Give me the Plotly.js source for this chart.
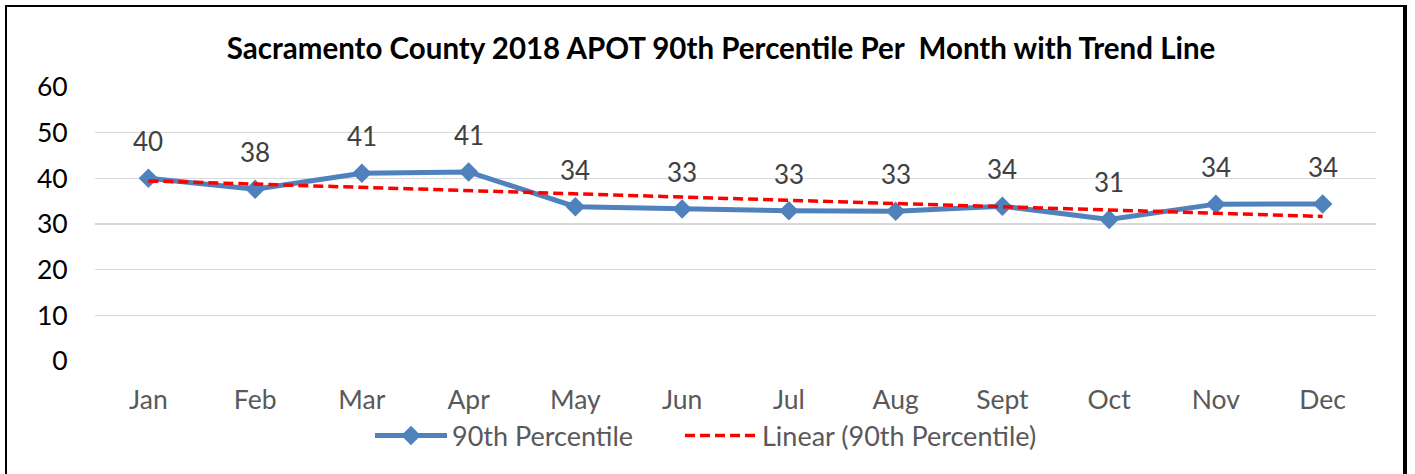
<!DOCTYPE html>
<html>
<head>
<meta charset="utf-8">
<script src="https://cdn.plot.ly/plotly-3.0.1.min.js"></script>
<style>
  html, body { margin: 0; padding: 0; background: #fff; }
  #wrap { position: relative; width: 1415px; height: 474px; overflow: hidden; }
  #chart { position: absolute; left: 0; top: 0; width: 1415px; height: 474px; }
  #frame { position: absolute; left: 5px; top: 5px; width: 1402px; height: 480px;
           border-left: 2px solid #000; border-top: 2px solid #000; border-right: 4px solid #000;
           pointer-events: none; box-sizing: border-box; }
</style>
</head>
<body>
<div id="wrap"><div id="chart"></div><div id="frame"></div></div>
<script>
const months = ["Jan","Feb","Mar","Apr","May","Jun","Jul","Aug","Sept","Oct","Nov","Dec"];
const p90 = [40.0, 37.6, 41.1, 41.4, 33.8, 33.3, 32.9, 32.8, 33.9, 31.0, 34.35, 34.4];
const yTicks = [0, 10, 20, 30, 40, 50, 60];

// Linear least-squares trend line computed from the series
const n = p90.length;
const xs = p90.map((_, i) => i + 1);
const mx = xs.reduce((a, b) => a + b, 0) / n;
const my = p90.reduce((a, b) => a + b, 0) / n;
let sxy = 0, sxx = 0;
for (let i = 0; i < n; i++) { sxy += (xs[i] - mx) * (p90[i] - my); sxx += (xs[i] - mx) ** 2; }
const slope = sxy / sxx;
const trend = xs.map(x => my + slope * (x - mx));

const FONT = "Lato, 'Noto Sans', sans-serif";

const traces = [
  {
    x: months, y: p90, type: "scatter", mode: "lines+markers",
    name: "90th Percentile", legend: "legend",
    line: { color: "#4F81BD", width: 5 },
    marker: { symbol: "diamond", size: 15, color: "#4F81BD" }
  },
  {
    x: months, y: trend, type: "scatter", mode: "lines",
    name: "Linear (90th Percentile)", legend: "legend2",
    line: { color: "#FF0000", width: 3.5, dash: "10px,5px" }
  }
];

const annotations = months.map((m, i) => ({
  x: m, y: p90[i], xref: "x", yref: "y",
  text: String(Math.round(p90[i])),
  showarrow: false, yshift: 37, yanchor: "middle",
  font: { family: FONT, size: 26, color: "#404040" }
}));

const legendBase = {
  orientation: "h", xref: "container", yref: "container",
  y: 1 - 436 / 474, xanchor: "left", yanchor: "middle",
  font: { family: FONT, size: 27, color: "#595959" },
  itemwidth: 72, bgcolor: "rgba(0,0,0,0)"
};

const layout = {
  width: 1415, height: 474,
  paper_bgcolor: "#fff", plot_bgcolor: "#fff",
  margin: { l: 95, r: 39, t: 87, b: 113 },
  title: {
    text: "<b>Sacramento County 2018 APOT 90th Percentile Per\u00A0 Month with Trend Line</b>",
    xref: "container", yref: "container", x: 0.5096, y: 1 - 49 / 474,
    xanchor: "center", yanchor: "middle",
    font: { family: FONT, size: 29.5, color: "#000" }
  },
  xaxis: {
    type: "category", range: [-0.5, 11.5],
    showgrid: false, zeroline: false, showline: false,
    ticks: "outside", ticklen: 15, tickcolor: "rgba(0,0,0,0)",
    tickfont: { family: FONT, size: 26.5, color: "#595959" }
  },
  yaxis: {
    range: [0, 60], tickvals: yTicks, ticktext: yTicks.map(String),
    showgrid: true, gridcolor: "#D9D9D9", gridwidth: 1.5,
    zeroline: false, showline: false,
    ticks: "outside", ticklen: 21, tickcolor: "rgba(0,0,0,0)",
    tickfont: { family: FONT, size: 26.5, color: "#000" }
  },
  showlegend: true,
  legend: Object.assign({}, legendBase, { x: 370 / 1415 }),
  legend2: Object.assign({}, legendBase, { x: 680 / 1415 }),
  annotations: annotations
};

Plotly.newPlot("chart", traces, layout, { displayModeBar: false, staticPlot: true });
</script>
</body>
</html>
